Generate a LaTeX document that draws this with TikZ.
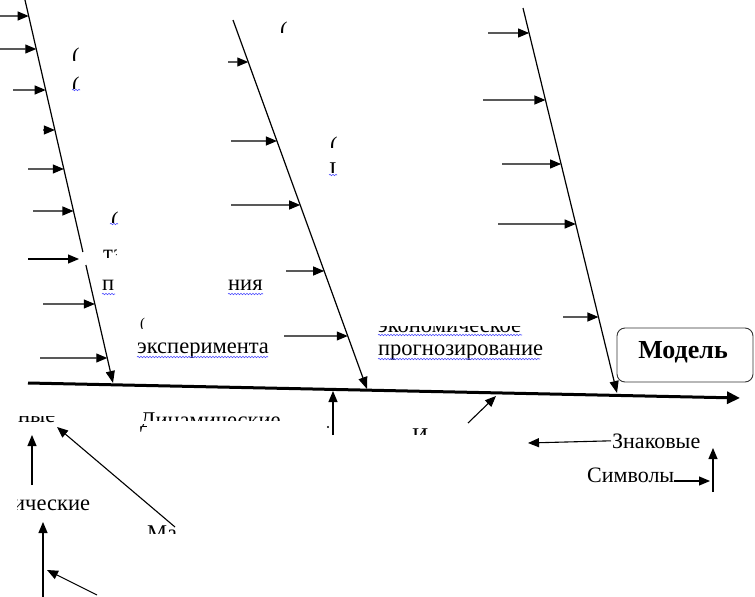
\documentclass[tikz,border=0pt]{standalone}
\usepackage{fontspec}
\setmainfont{Liberation Serif}
\usetikzlibrary{arrows.meta,decorations.pathmorphing,calc}
\newcommand\fragclip[6]{% name, x, baseline, clip corner1, clip corner2, text
  \begin{scope}\clip #4 rectangle #5;
  \node[lbl,frag,anchor=base west] (#1) at (#2,#3) {#6};\end{scope}}
\begin{document}
\begin{tikzpicture}[x=1pt,y=-1pt,
  bone/.style={line width=1.2pt},
  bonearr/.style={line width=1.2pt,-{Triangle[length=12pt,width=9pt]}},
  arr/.style={line width=1.1pt,-{Triangle[length=11pt,width=9pt]}},
  spine/.style={line width=3pt,-{Triangle[length=13pt,width=12pt]}},
  lbl/.style={inner sep=0pt,font=\fontsize{22.5}{27}\selectfont},
  frag/.style={text depth=0pt,text height=8pt},
  smlbl/.style={inner sep=0pt,font=\fontsize{22}{26}\selectfont},
  sq/.style={draw=blue!70!white,line width=0.6pt,decorate,
    decoration={snake,amplitude=0.7pt,segment length=3pt}},
  modelbox/.style={draw=black!80,rounded corners=8pt,line width=0.9pt,
    minimum width=136pt,minimum height=54pt,inner sep=0pt},
]
\useasboundingbox (0,0) rectangle (755,597);
% bones and spine
\coordinate (b1t) at (25,0);   \coordinate (b1b) at (113,383);
\coordinate (b2t) at (233,20); \coordinate (b2b) at (367,389);
\coordinate (b3t) at (523,8);  \coordinate (b3b) at (617,393);
\coordinate (sp0) at (28,383); \coordinate (sp1) at (740,398);
\draw[spine] (sp0) -- (sp1);
\draw[bone] (b1t) -- ($(b1t)!0.658!(b1b)$);
\draw[bonearr] ($(b1t)!0.692!(b1b)$) -- (b1b);
\draw[bonearr] (b2t) -- (b2b);
\draw[bonearr] (b3t) -- (b3b);
% arrows to bone 1
\foreach \sx/\yy in {0/16,0/49,13/90,43/130,28/169,33/211,43/304,40/358}{
  \pgfmathsetmacro\pp{\yy/383}
  \draw[arr] (\sx,\yy) -- ($(b1t)!\pp!(b1b)$);
}
\coordinate (g7) at (79,259);
\draw[arr] (28,259) -- (g7);
% arrows to bone 2
\foreach \sx/\yy in {228/62,231/141,231/205,286/271,284/336}{
  \pgfmathsetmacro\pp{(\yy-20)/369}
  \draw[arr] (\sx,\yy) -- ($(b2t)!\pp!(b2b)$);
}
% arrows to bone 3
\foreach \sx/\yy in {488/33,483/100,502/164,498/224,563/317}{
  \pgfmathsetmacro\pp{(\yy-8)/385}
  \draw[arr] (\sx,\yy) -- ($(b3t)!\pp!(b3b)$);
}
% text fragments (top area)
\fragclip{f1}{72}{63}{(68,46)}{(84,60)}{(}
\fragclip{f2}{72}{92}{(68,76)}{(84,88)}{(}
\draw[sq] (72,90) -- (80,90);
\fragclip{f3}{280}{37}{(276,20)}{(292,32)}{(}
\fragclip{f4}{330}{152}{(326,135)}{(342,147)}{(}
\fragclip{f5}{329}{177}{(325,160)}{(342,172)}{I}
\draw[sq] (329,175) -- (337,175);
\fragclip{f6}{111}{227}{(107,210)}{(123,222)}{(}
\draw[sq] (110,224) -- (118,224);
\fragclip{f7}{103}{260}{(100,248)}{(116,257)}{тз}
\node[lbl,anchor=base west] (f8) at (102,290) {п};
\draw[sq] (102,294) -- (115,294);
\node[lbl,anchor=base west] (f9) at (228,290) {ния};
\draw[sq] (228,294) -- (263,294);
\begin{scope}\clip (136,316) rectangle (152,328);
\node[inner sep=0pt,text depth=0pt,anchor=base west,font=\fontsize{15}{18}\selectfont] (f10) at (140,328.5) {(};
\end{scope}
\node[lbl,anchor=base west] (exp) at (137,353) {эксперимента};
\draw[sq] (137,357) -- (268,357);
\fragclip{econ}{378}{332}{(370,326)}{(540,340)}{экономическое}
\draw[sq] (378,335) -- (522,335);
\node[lbl,anchor=base west] (prog) at (378,355) {прогнозирование};
\draw[sq] (378,359) -- (540,359);
% model
\node[modelbox] (model) at (685,355) {};
\node[inner sep=0pt,anchor=base,font=\bfseries\fontsize{26}{30}\selectfont] (modeltxt) at (683,358) {Модель};
% bottom fragments
\fragclip{f11}{18}{422}{(14,416)}{(70,432)}{ные}
\fragclip{f12}{140}{427}{(136,411)}{(282,420)}{Динамические}
\fragclip{f13}{140}{427}{(136,424)}{(146,433)}{Динамические}
\fragclip{f14}{13}{510}{(17,490)}{(100,520)}{ические}
\fragclip{f15}{147}{540}{(140,520)}{(181,533)}{Ма}
\fragclip{f16}{412}{443}{(405,425)}{(430,434)}{И}
\fill (328,427) circle (1.2pt);
% bottom arrows
\coordinate (a1s) at (32,485);  \coordinate (a1e) at (32,435);
\coordinate (a2s) at (175,527); \coordinate (a2e) at (57,427);
\coordinate (a3s) at (43,597);  \coordinate (a3e) at (43,522);
\coordinate (a4s) at (97,595);  \coordinate (a4e) at (47,570);
\coordinate (a5s) at (333,435); \coordinate (a5e) at (333,391);
\coordinate (a6s) at (468,423); \coordinate (a6e) at (496,396);
\draw[arr] (a1s) -- (a1e);
\draw[arr] (a2s) -- (a2e);
\draw[arr] (a3s) -- (a3e);
\draw[arr] (a4s) -- (a4e);
\draw[arr] (a5s) -- (a5e);
\draw[arr] (a6s) -- (a6e);
% signs
\node[smlbl,anchor=base west] (zn) at (612,448) {Знаковые};
\node[smlbl,anchor=base west] (sym) at (587,482) {Символы};
\coordinate (zne) at (528,443);
\coordinate (syme) at (710,481);
\coordinate (v1s) at (713,492); \coordinate (v1e) at (713,448);
\draw[arr] ([xshift=-1pt]zn.west) -- (zne);
\draw[arr] ([yshift=1pt]sym.base east) -- (syme);
\draw[arr] (v1s) -- (v1e);
\end{tikzpicture}
\end{document}
